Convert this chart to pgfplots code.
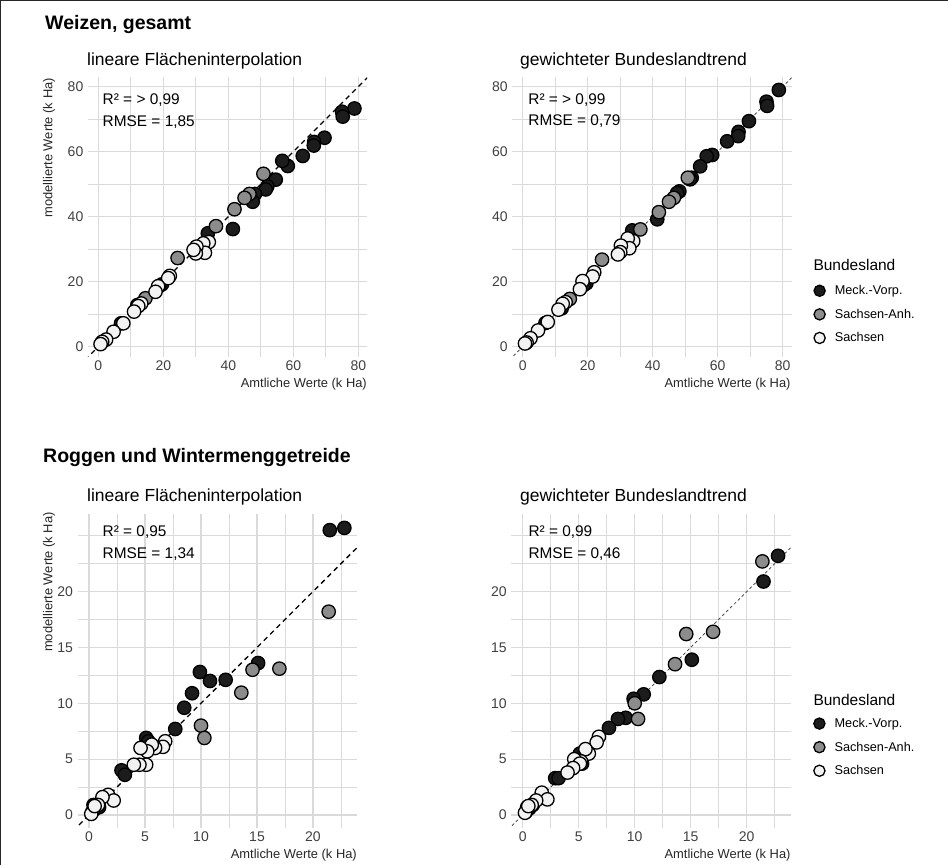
\documentclass[border=0pt]{standalone}
\usepackage{fontspec}
\setmainfont{Liberation Sans}
\usepackage{pgfplots}
\pgfplotsset{compat=1.18}
\usepackage{pgfplotstable}
\definecolor{meck}{HTML}{1C1C1C}
\definecolor{anh}{HTML}{8C8C8C}
\definecolor{sax}{HTML}{F2F2F2}
\definecolor{gridc}{HTML}{DADADA}

% Weizen: x = amtlich, ya = lineare Flaecheninterpolation, yb = gewichteter Bundeslandtrend
\pgfplotstableread{
x ya yb
78.8 73.3 79.0
75.0 72.3 75.4
75.2 70.8 74.1
69.6 64.3 69.4
66.4 63.0 66.1
66.3 61.9 64.8
62.9 58.7 63.2
58.3 55.6 59.0
56.6 57.2 58.6
54.6 51.4 55.5
52.0 49.3 52.0
51.5 48.4 51.5
48.2 47.0 47.8
47.5 44.6 47.3
41.4 36.2 39.2
33.7 34.9 35.8
19.6 19.2 19.5
18.8 18.7 19.0
12.0 12.8 11.8
7.0 7.2 7.3
}\wmeck
\pgfplotstableread{
x ya yb
50.8 53.2 52.0
46.5 47.0 45.8
45.0 45.8 44.6
41.9 42.3 41.4
36.2 37.1 36.1
24.4 27.3 26.8
14.5 14.9 14.7
}\wanh
\pgfplotstableread{
x ya yb
34.0 32.2 32.5
32.3 31.8 33.3
32.8 28.9 30.3
30.2 30.8 31.1
30.0 28.7 29.1
29.3 29.8 28.4
22.0 21.8 22.9
21.5 21.1 21.6
18.4 18.6 20.2
17.6 16.9 17.7
13.2 13.3 13.7
12.3 12.5 13.2
11.0 10.8 11.4
7.7 7.2 7.6
4.7 4.6 5.0
2.4 2.2 2.6
1.2 1.5 1.3
0.7 0.8 1.0
}\wsax
% Roggen und Wintermenggetreide
\pgfplotstableread{
x ya yb
22.8 25.7 23.2
21.5 25.5 20.9
15.1 13.6 13.9
12.2 12.1 12.35
10.8 12.0 10.8
9.9 12.8 10.4
9.2 10.9 8.7
8.5 9.6 8.6
7.7 7.7 7.8
5.1 6.9 5.5
5.3 6.6 4.6
2.9 4.0 3.3
3.2 3.6 3.3
0.6 0.6 0.6
0.9 0.7 0.9
0.4 0.9 0.7
}\rmeck
\pgfplotstableread{
x ya yb
21.4 18.2 22.7
17.0 13.1 16.4
14.6 13.0 16.2
13.6 10.95 13.5
10.0 8.0 10.0
10.3 6.9 8.6
}\ranh
\pgfplotstableread{
x ya yb
6.8 6.6 7.0
6.6 6.1 6.5
5.9 6.0 5.5
5.6 6.3 5.9
5.2 5.7 4.8
4.6 6.0 5.0
5.1 4.5 4.6
4.5 4.5 4.2
4.0 4.5 3.8
1.7 1.8 2.0
2.2 1.3 1.4
1.2 1.6 1.3
0.8 0.9 0.9
0.3 0.3 0.3
0.2 0.1 0.2
0.5 0.8 0.8
}\rsax

\tikzset{stat/.style={anchor=base west, inner sep=0pt, font=\fontsize{15.4}{18}\selectfont}}

\pgfplotsset{
  panel/.style={
    scale only axis,
    axis line style={draw=none}, tick style={draw=none},
    grid=both,
    major grid style={draw=gridc, line width=1.1pt},
    minor grid style={draw=gridc, line width=0.7pt},
    tick label style={font=\fontsize{14}{16}\selectfont, text=black!75},
    yticklabel style={anchor=east, inner sep=0pt, xshift=-4.4pt},
    xticklabel style={anchor=north, inner sep=0pt, yshift=-3.3pt},
    /pgf/number format/assume math mode=true,
  },
  top/.style={panel, width=279.2pt, height=279.5pt,
    xmin=-3.2, xmax=82.7, ymin=-3.1, ymax=82.9,
    xtick={0,20,...,80}, ytick={0,20,...,80},
    minor xtick={10,30,50,70}, minor ytick={10,30,50,70}},
  bot/.style={panel, width=279.5pt, height=314.6pt,
    xmin=-1.03, xmax=23.93, ymin=-1.18, ymax=26.98,
    xtick={0,5,...,20}, ytick={0,5,...,20},
    minor xtick={2.5,7.5,12.5,17.5,22.5}, minor ytick={2.5,7.5,12.5,17.5,22.5,25}},
  pt/.style={only marks, mark=*, mark size=6.7pt,
    mark options={draw=black, line width=1.3pt, fill=#1}},
  diagL/.style={black, line width=1.3pt, dash pattern=on 5pt off 4pt},
  diagR/.style={black!80, line width=0.7pt, dash pattern=on 3pt off 2.5pt},
  leg/.style={
    legend style={draw=none, fill=none, at={(axis description cs:#1)}, anchor=north west,
      font=\fontsize{12.7}{15}\selectfont, inner sep=0pt, row sep=12.4pt,
      nodes={inner sep=0pt}},
    legend cell align=left,
    legend image code/.code={\draw[##1, mark size=5.6pt] plot coordinates {(6.5pt,0pt)}; \path (0pt,0pt) (21.5pt,0pt);},
  },
}

\begin{document}
\begin{tikzpicture}
\useasboundingbox (0pt,0pt) rectangle (948pt,865pt);

% ---------- Weizen, lineare
\begin{axis}[top, at={(87.9pt,508.2pt)}, anchor=south west]
\addplot[diagL, forget plot] coordinates {(-10,-10) (100,100)};
\addplot[pt=meck] table[x=x, y=ya] {\wmeck};
\addplot[pt=anh] table[x=x, y=ya] {\wanh};
\addplot[pt=sax] table[x=x, y=ya] {\wsax};
\node[stat] at (axis cs:1.3,74.4) {R² = > 0,99};
\node[stat] at (axis cs:1.3,67.7) {RMSE = 1,85};
\end{axis}

% ---------- Weizen, gewichteter
\begin{axis}[top, at={(512.3pt,508.2pt)}, anchor=south west, leg={1.076,0.257}]
\addplot[diagR, forget plot] coordinates {(-10,-10) (100,100)};
\addplot[pt=meck] table[x=x, y=yb] {\wmeck};
\addplot[pt=anh] table[x=x, y=yb] {\wanh};
\addplot[pt=sax] table[x=x, y=yb] {\wsax};
\addlegendentry{Meck.-Vorp.}
\addlegendentry{Sachsen-Anh.}
\addlegendentry{Sachsen}
\node[stat] at (axis cs:1.7,74.4) {R² = > 0,99};
\node[stat] at (axis cs:1.7,68.0) {RMSE = 0,79};
\end{axis}

% ---------- Roggen, lineare
\begin{axis}[bot, at={(77.5pt,36.8pt)}, anchor=south west]
\addplot[diagL, forget plot] coordinates {(-10,-10) (100,100)};
\addplot[pt=meck] table[x=x, y=ya] {\rmeck};
\addplot[pt=anh] table[x=x, y=ya] {\ranh};
\addplot[pt=sax] table[x=x, y=ya] {\rsax};
\node[stat] at (axis cs:1.2,24.9) {R² = 0,95};
\node[stat] at (axis cs:1.2,23.0) {RMSE = 1,34};
\end{axis}

% ---------- Roggen, gewichteter
\begin{axis}[bot, at={(511.2pt,36.8pt)}, anchor=south west, leg={1.078,0.351}]
\addplot[diagR, forget plot] coordinates {(-10,-10) (100,100)};
\addplot[pt=meck] table[x=x, y=yb] {\rmeck};
\addplot[pt=anh] table[x=x, y=yb] {\ranh};
\addplot[pt=sax] table[x=x, y=yb] {\rsax};
\addlegendentry{Meck.-Vorp.}
\addlegendentry{Sachsen-Anh.}
\addlegendentry{Sachsen}
\node[stat] at (axis cs:0.5,24.9) {R² = 0,99};
\node[stat] at (axis cs:0.5,23.0) {RMSE = 0,46};
\end{axis}

% ---------- texts
\node[anchor=base west, inner sep=0pt, font=\fontsize{19.5}{22}\selectfont\bfseries] at (45pt,835.7pt) {Weizen, gesamt};
\node[anchor=base west, inner sep=0pt, font=\fontsize{19.5}{22}\selectfont\bfseries] at (43pt,402.3pt) {Roggen und Wintermenggetreide};
\node[anchor=base west, inner sep=0pt, font=\fontsize{17.5}{20}\selectfont] at (87pt,799pt) {lineare Flächeninterpolation};
\node[anchor=base west, inner sep=0pt, font=\fontsize{17.5}{20}\selectfont] at (520pt,799pt) {gewichteter Bundeslandtrend};
\node[anchor=base west, inner sep=0pt, font=\fontsize{17.5}{20}\selectfont] at (87pt,363pt) {lineare Flächeninterpolation};
\node[anchor=base west, inner sep=0pt, font=\fontsize{17.5}{20}\selectfont] at (520pt,363pt) {gewichteter Bundeslandtrend};

\node[rotate=90, anchor=east, inner sep=0pt, font=\fontsize{12.9}{15}\selectfont, text=black!85] at (49pt,787pt) {modellierte Werte (k Ha)};
\node[rotate=90, anchor=east, inner sep=0pt, font=\fontsize{12.9}{15}\selectfont, text=black!85] at (49pt,353pt) {modellierte Werte (k Ha)};
\node[anchor=base east, inner sep=0pt, font=\fontsize{12.9}{15}\selectfont, text=black!85] at (367pt,477pt) {Amtliche Werte (k Ha)};
\node[anchor=base east, inner sep=0pt, font=\fontsize{12.9}{15}\selectfont, text=black!85] at (790.7pt,477pt) {Amtliche Werte (k Ha)};
\node[anchor=base east, inner sep=0pt, font=\fontsize{12.9}{15}\selectfont, text=black!85] at (357pt,6.7pt) {Amtliche Werte (k Ha)};
\node[anchor=base east, inner sep=0pt, font=\fontsize{12.9}{15}\selectfont, text=black!85] at (790.7pt,6.7pt) {Amtliche Werte (k Ha)};

\node[anchor=base west, inner sep=0pt, font=\fontsize{15.5}{18}\selectfont] at (813.3pt,594.3pt) {Bundesland};
\node[anchor=base west, inner sep=0pt, font=\fontsize{15.5}{18}\selectfont] at (813.3pt,159.3pt) {Bundesland};

\draw[line width=1.3pt, black!85] (0.65pt,0pt) -- (0.65pt,864.35pt) -- (948pt,864.35pt);
\end{tikzpicture}
\end{document}
